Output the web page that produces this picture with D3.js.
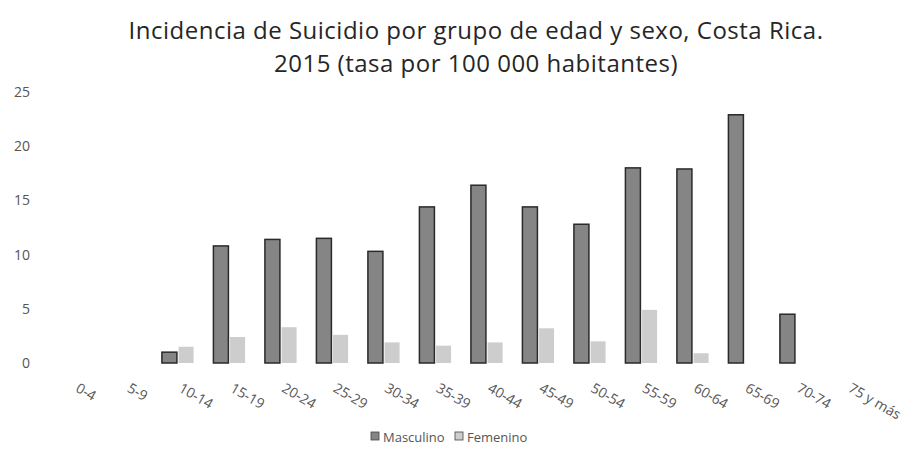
<!DOCTYPE html>
<head>
  <meta charset="utf-8">
  <script src="https://d3js.org/d3.v7.min.js"></script>
  <style>
    body { margin:0; background:#fff; }
    text { font-family: "Open Sans", sans-serif; }
  </style>
</head>
<body>
  <div class="chart"></div>
  <script>
    // datos
    const grupos = ['0-4', '5-9', '10-14', '15-19', '20-24', '25-29', '30-34', '35-39',
                    '40-44', '45-49', '50-54', '55-59', '60-64', '65-69', '70-74', '75 y más'];
    const masculino = [0, 0, 1.0, 10.8, 11.4, 11.5, 10.3, 14.4, 16.4, 14.4, 12.8, 18.0, 17.9, 22.9, 4.5, 0];
    const femenino  = [0, 0, 1.5, 2.4, 3.3, 2.6, 1.9, 1.6, 1.9, 3.2, 2.0, 4.9, 0.9, 0, 0, 0];
    const series = ['Masculino', 'Femenino'];
    const yTicks = [0, 5, 10, 15, 20, 25];

    const width = 906, height = 457;
    const colors = { Masculino: '#858585', Femenino: '#cdcdcd' };

    const svg = d3.select('.chart')
      .append('svg')
        .attr('width', width)
        .attr('height', height);

    const titulo = ['Incidencia de Suicidio por grupo de edad y sexo, Costa Rica.',
                    '2015 (tasa por 100 000 habitantes)'];
    svg.append('g')
      .selectAll('text')
      .data(titulo)
      .join('text')
        .attr('x', 476)
        .attr('y', (d, i) => 39 + i * 33)
        .attr('text-anchor', 'middle')
        .style('font-size', '24px')
        .style('letter-spacing', '0.5px')
        .style('fill', '#262626')
        .text(d => d);

    const x = d3.scaleBand()
      .domain(grupos)
      .range([49, 873])
      .paddingInner(0.32)
      .paddingOuter(0.16);

    const xs = d3.scaleBand()
      .domain(series)
      .range([0, x.bandwidth()])
      .padding(0.1);

    const y = d3.scaleLinear()
      .domain([0, 25])
      .range([363, 92]);

    // eje y (solo etiquetas)
    svg.append('g')
      .selectAll('text')
      .data(yTicks)
      .join('text')
        .attr('x', 30)
        .attr('y', d => y(d))
        .attr('dy', '0.35em')
        .attr('text-anchor', 'end')
        .style('font-size', '14px')
        .style('fill', '#555')
        .text(d => d);

    const rows = grupos.map((g, i) => ({ g, Masculino: masculino[i], Femenino: femenino[i] }));

    const grp = svg.append('g')
      .selectAll('g')
      .data(rows)
      .join('g')
        .attr('transform', d => `translate(${x(d.g)},0)`);

    grp.selectAll('rect')
      .data(d => series.map(s => ({ s, v: d[s] })).filter(e => e.v > 0))
      .join('rect')
        .attr('x', d => xs(d.s))
        .attr('width', xs.bandwidth())
        .attr('y', d => y(d.v))
        .attr('height', d => y(0) - y(d.v))
        .style('fill', d => colors[d.s])
        .style('stroke', d => d.s === 'Masculino' ? '#2a2a2a' : 'none')
        .style('stroke-width', 1.5);

    // etiquetas del eje x, giradas
    svg.append('g')
      .selectAll('text')
      .data(grupos)
      .join('text')
        .attr('transform', d => `translate(${x(d) + x.bandwidth() / 2},391) rotate(30)`)
        .style('font-size', '14px')
        .style('fill', '#555')
        .text(d => d);

    // leyenda
    const leg = svg.append('g')
      .selectAll('g')
      .data(series)
      .join('g')
        .attr('transform', (d, i) => `translate(${[371, 455][i]},437)`);
    leg.append('rect')
      .attr('x', 0).attr('y', -5)
      .attr('width', 8).attr('height', 8)
      .style('fill', d => colors[d])
      .style('stroke', '#444')
      .style('stroke-width', 0.8);
    leg.append('text')
      .attr('x', 12).attr('y', 0)
      .attr('dy', '0.35em')
      .style('font-size', '13px')
      .style('fill', '#555')
      .text(d => d);
  </script>
</body>
</html>
